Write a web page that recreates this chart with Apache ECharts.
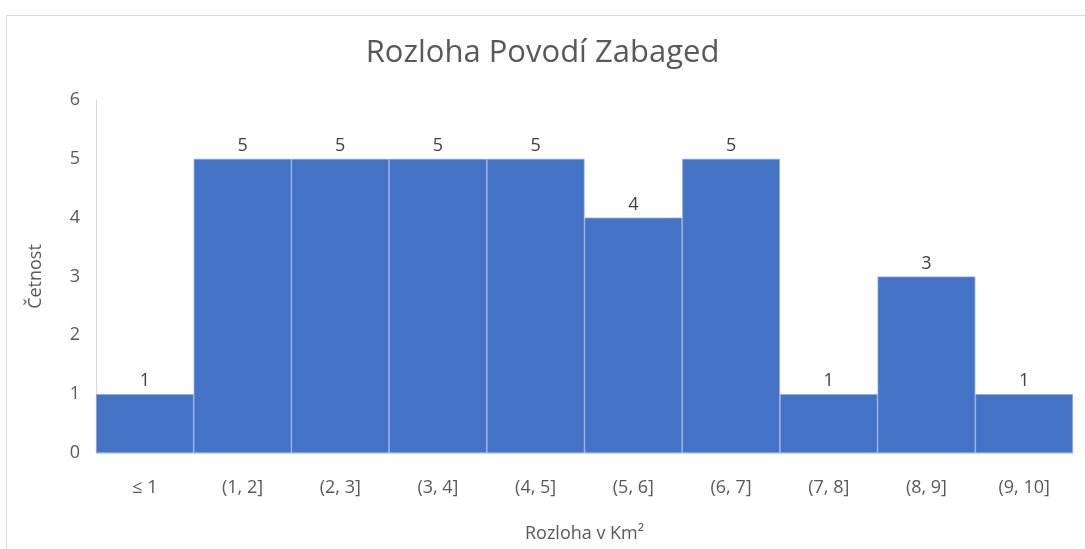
<!DOCTYPE html>
<html>
<head>
<meta charset="utf-8">
<script src="https://cdn.jsdelivr.net/npm/echarts@6/dist/echarts.min.js"></script>
<style>
  html, body { margin: 0; padding: 0; background: #fff; }
  #chart { width: 1085px; height: 549px; }
</style>
</head>
<body>
<div id="chart"></div>
<script>
// histogram bins and counts
const categories = ['≤ 1', '(1, 2]', '(2, 3]', '(3, 4]', '(4, 5]', '(5, 6]', '(6, 7]', '(7, 8]', '(8, 9]', '(9, 10]'];
const counts = [1, 5, 5, 5, 5, 4, 5, 1, 3, 1];
const yTicks = [0, 1, 2, 3, 4, 5, 6];

const font = '"Open Sans", "Noto Sans", sans-serif';
const chart = echarts.init(document.getElementById('chart'));
chart.setOption({
  animation: false,
  backgroundColor: '#fff',
  title: {
    text: 'Rozloha Povodí Zabaged',
    left: 'center',
    top: 33,
    textStyle: { fontFamily: font, fontSize: 31, fontWeight: 'normal', color: '#595959' }
  },
  graphic: [{ // outer chart border, cropped by the window
    type: 'rect',
    shape: { x: 6.5, y: 15.5, width: 1200, height: 700 },
    style: { fill: 'none', stroke: '#d9d9d9', lineWidth: 1 },
    silent: true
  }],
  grid: { left: 96, right: 12, top: 100, bottom: 96 },
  xAxis: {
    type: 'category',
    data: categories,
    name: 'Rozloha v Km²',
    nameLocation: 'middle',
    nameGap: 72,
    nameTextStyle: { fontFamily: font, fontSize: 18, color: '#595959' },
    axisLine: { lineStyle: { color: '#d9d9d9', width: 1 } },
    axisTick: { show: false },
    axisLabel: { fontFamily: font, fontSize: 18, color: '#595959', margin: 26, interval: 0 }
  },
  yAxis: {
    type: 'value',
    min: yTicks[0],
    max: yTicks[yTicks.length - 1],
    interval: 1,
    name: 'Četnost',
    nameLocation: 'middle',
    nameGap: 51,
    nameTextStyle: { fontFamily: font, fontSize: 18, color: '#595959' },
    axisLine: { show: true, lineStyle: { color: '#d9d9d9', width: 1 } },
    axisTick: { show: false },
    splitLine: { show: false },
    axisLabel: { fontFamily: font, fontSize: 18, color: '#595959', margin: 16 }
  },
  series: [{
    type: 'bar',
    data: counts,
    barCategoryGap: 0,
    itemStyle: { color: '#4472C4', borderColor: '#8FAADC', borderWidth: 0.75 },
    label: {
      show: true,
      position: 'top',
      distance: 4,
      fontFamily: font,
      fontSize: 18,
      color: '#404040'
    }
  }]
});
</script>
</body>
</html>
